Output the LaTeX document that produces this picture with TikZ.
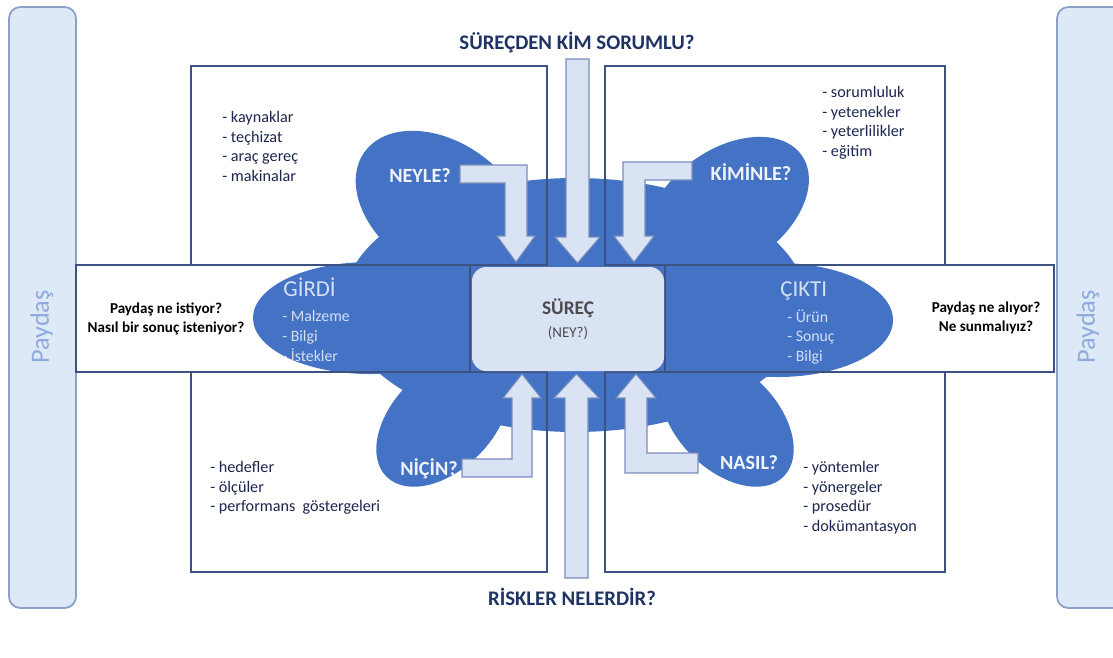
\documentclass[tikz,border=0pt]{standalone}
\usepackage{fontspec}
\setmainfont{Carlito}
\usepackage{tikz}
\usetikzlibrary{arrows.meta,calc,positioning}
\usepackage{xcolor}
\definecolor{srblue}{RGB}{68,114,196}
\definecolor{srlight}{RGB}{218,227,243}
\definecolor{srside}{RGB}{222,233,247}
\definecolor{srsideline}{RGB}{140,160,200}
\definecolor{srpaydas}{RGB}{143,170,220}
\definecolor{srline}{RGB}{62,82,130}
\definecolor{srarrow}{RGB}{120,142,188}
\definecolor{srnavy}{RGB}{31,50,100}
\definecolor{srtext}{RGB}{28,38,78}
\definecolor{srgray}{RGB}{75,75,80}
\definecolor{srpale}{RGB}{212,224,245}

\begin{document}
\begin{tikzpicture}[x=0.2mm,y=-0.2mm,
  sidebar/.style={fill=srside,draw=srsideline,line width=1pt,rounded corners=6.5pt},
  frame/.style={draw=srline,line width=0.9pt},
  flow/.style={fill=srlight,draw=srarrow,line width=0.6pt,line join=miter},
  listtxt/.style={anchor=north west,inner sep=0pt,align=left,text=srtext,font=\fontsize{9.2}{11.1}\selectfont},
  lobetxt/.style={anchor=north west,inner sep=0pt,align=left,text=srpale,font=\fontsize{9}{11.3}\selectfont},
  lobehead/.style={anchor=base west,inner sep=0pt,text=srpale,font=\fontsize{13}{15}\selectfont},
  asktxt/.style={anchor=base,inner sep=0pt,text=white!92!srblue,font=\bfseries\fontsize{11.5}{13}\selectfont},
  headtxt/.style={text=srnavy,font=\bfseries\fontsize{11.8}{13}\selectfont},
  sidetxt/.style={align=center,inner sep=0pt,font=\bfseries\fontsize{8.6}{10.8}\selectfont},
  paydas/.style={rotate=90,text=srpaydas,font=\fontsize{15}{18}\selectfont}]
\fill[white] (0,0) rectangle (1113,657);
\useasboundingbox (0,0) rectangle (1113,657);

% paydas
\draw[sidebar] (9,7) rectangle (76,608);
\draw[sidebar] (1057,7) rectangle (1130,608);
\node[paydas] (paydasL) at (42,327) {Paydaş};
\node[paydas] (paydasR) at (1088,327) {Paydaş};

% bulut
\fill[srblue] (575,305) ellipse [x radius=232, y radius=127];
\fill[srblue] (370,318) ellipse [x radius=117, y radius=56];
\fill[srblue] (778,320) ellipse [x radius=115, y radius=57];
\fill[srblue,rotate around={-35:(442,207)}] (442,207) ellipse [x radius=95, y radius=65];
\fill[srblue,rotate around={35:(728,207)}] (728,207) ellipse [x radius=90, y radius=58];
\fill[srblue,rotate around={45:(443,420)}] (443,420) ellipse [x radius=80, y radius=50];
\fill[srblue,rotate around={-45:(727,420)}] (727,420) ellipse [x radius=80, y radius=50];

% cerceveler
\draw[frame] (191,66) rectangle (547,265);
\draw[frame] (605,66) rectangle (945,265);
\draw[frame] (191,372) rectangle (547,572);
\draw[frame] (605,372) rectangle (945,572);
\draw[frame] (76,265) rectangle (470,372);
\draw[frame] (665,265) rectangle (1054,372);

\node[fill=srlight,rounded corners=8pt,minimum width=38.4mm,minimum height=20.8mm,align=center,inner sep=0pt] (surec) at (568,319)
  {{\color{srgray}\bfseries\fontsize{11}{13}\selectfont SÜREÇ}\\[1pt]{\color{srgray}\fontsize{8.5}{10}\selectfont (NEY?)}};

% oklar
\draw[flow] (566,59) -- (589,59) -- (589,237) -- (600,237) -- (577.5,263) -- (555,237) -- (566,237) -- cycle;
\draw[flow] (565,578) -- (588,578) -- (588,398) -- (599,398) -- (576.5,374) -- (554,398) -- (565,398) -- cycle;
\draw[flow] (460,165) -- (527,165) -- (527,236) -- (535,236) -- (516,262) -- (497,236) -- (505,236) -- (505,183) -- (460,183) -- cycle;
\draw[flow] (692,162) -- (623,162) -- (623,236) -- (614,236) -- (634,262) -- (654,236) -- (645,236) -- (645,180) -- (692,180) -- cycle;
\draw[flow] (462,477) -- (532,477) -- (532,398) -- (541,398) -- (522,374) -- (503,398) -- (512,398) -- (512,459) -- (462,459) -- cycle;
\draw[flow] (698,473) -- (625,473) -- (625,398) -- (616,398) -- (636,374) -- (656,398) -- (647,398) -- (647,453) -- (698,453) -- cycle;

% metinler
\node[headtxt] (sorumlu) at (577,43) {SÜREÇDEN KİM SORUMLU?};
\node[headtxt] (risk) at (572,597) {RİSKLER NELERDİR?};

\node[listtxt] (neyleL) at (222,111) {- kaynaklar\\- teçhizat\\- araç gereç\\- makinalar};
\node[listtxt] (kiminleL) at (822,86) {- sorumluluk\\- yetenekler\\- yeterlilikler\\- eğitim};
\node[listtxt] (nicinL) at (210,461) {- hedefler\\- ölçüler\\- performans\ \ göstergeleri};
\node[listtxt] (nasilL) at (803,461) {- yöntemler\\- yönergeler\\- prosedür\\- dokümantasyon};

\node[sidetxt] (istek) at (166,319) {Paydaş ne istiyor?\\Nasıl bir sonuç isteniyor?};
\node[sidetxt] (alis) at (986,318) {Paydaş ne alıyor?\\Ne sunmalıyız?};

\node[lobehead] (girdi) at (283,296) {GİRDİ};
\node[lobetxt] (girdiL) at (282,310) {- Malzeme\\- Bilgi\\- İstekler};
\node[lobehead] (cikti) at (780,296) {ÇIKTI};
\node[lobetxt] (ciktiL) at (787,309) {- Ürün\\- Sonuç\\- Bilgi};

\node[asktxt] (neyle) at (420,182) {NEYLE?};
\node[asktxt] (kiminle) at (751,180) {KİMİNLE?};
\node[asktxt] (nicin) at (429,475) {NİÇİN?};
\node[asktxt] (nasil) at (749,469) {NASIL?};
\end{tikzpicture}
\end{document}
